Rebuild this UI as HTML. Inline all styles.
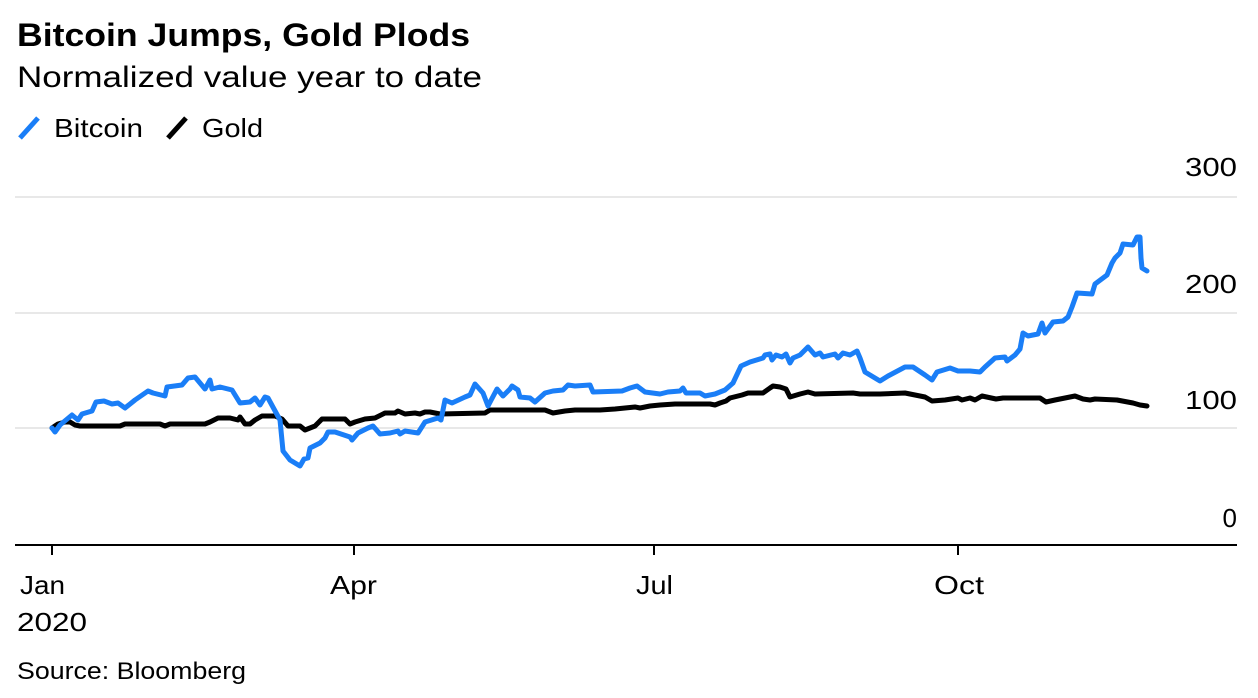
<!DOCTYPE html>
<html><head><meta charset="utf-8"><style>
body{margin:0;background:#fff;width:1258px;height:698px;overflow:hidden;font-family:"Liberation Sans",sans-serif;}
svg{position:absolute;left:0;top:0}
</style></head><body>
<svg width="1258" height="698" xmlns="http://www.w3.org/2000/svg" font-family="Liberation Sans, sans-serif">
<text x="17" y="46" font-size="32" font-weight="bold" fill="#000" textLength="453" lengthAdjust="spacingAndGlyphs">Bitcoin Jumps, Gold Plods</text>
<text x="17" y="87" font-size="30" fill="#000" textLength="465" lengthAdjust="spacingAndGlyphs">Normalized value year to date</text>
<line x1="20" y1="138" x2="38" y2="118" stroke="#1a7ef7" stroke-width="5"/>
<text x="54" y="137" font-size="26" fill="#000" textLength="89" lengthAdjust="spacingAndGlyphs">Bitcoin</text>
<line x1="168" y1="138" x2="186" y2="118" stroke="#000" stroke-width="5"/>
<text x="202" y="137" font-size="26" fill="#000" textLength="61" lengthAdjust="spacingAndGlyphs">Gold</text>
<g stroke="#e8e8e8" stroke-width="2">
<line x1="15" y1="197" x2="1237" y2="197"/>
<line x1="15" y1="313" x2="1237" y2="313"/>
<line x1="15" y1="428" x2="1237" y2="428"/>
</g>
<g font-size="26" fill="#000" text-anchor="end">
<text x="1237" y="176" textLength="52" lengthAdjust="spacingAndGlyphs">300</text>
<text x="1237" y="293" textLength="52" lengthAdjust="spacingAndGlyphs">200</text>
<text x="1237" y="409" textLength="52" lengthAdjust="spacingAndGlyphs">100</text>
<text x="1237" y="527">0</text>
</g>
<line x1="15" y1="545" x2="1237" y2="545" stroke="#000" stroke-width="2"/>
<g stroke="#000" stroke-width="2">
<line x1="52" y1="545" x2="52" y2="555"/><line x1="354" y1="545" x2="354" y2="555"/>
<line x1="654" y1="545" x2="654" y2="555"/><line x1="958" y1="545" x2="958" y2="555"/>
</g>
<g font-size="26" fill="#000">
<text x="20" y="594" textLength="45" lengthAdjust="spacingAndGlyphs">Jan</text><text x="330" y="594" textLength="47" lengthAdjust="spacingAndGlyphs">Apr</text><text x="636" y="594" textLength="37" lengthAdjust="spacingAndGlyphs">Jul</text><text x="934" y="594" textLength="50" lengthAdjust="spacingAndGlyphs">Oct</text>
<text x="17" y="631" textLength="70" lengthAdjust="spacingAndGlyphs">2020</text>
</g>
<text x="17" y="679" font-size="24" fill="#000" textLength="229" lengthAdjust="spacingAndGlyphs">Source: Bloomberg</text>
<polyline fill="none" stroke="#000" stroke-width="5" stroke-linejoin="round" stroke-linecap="round" points="52,428 58,424 65,422 70,422 75,425 80,426 90,426 120,426 125,424 160,424 165,426 170,424 205,424 210,422 218,418 230,418 238,420 240,417 245,424 250,424 255,420 262,416 275,416 282,419 288,426 300,426 305,430 315,426 322,419 345,419 350,424 355,422 365,419 375,418 385,413 395,413 398,411 405,414 415,413 420,414 425,412 430,412 440,414 485,413 490,410 545,410 553,413 565,411 575,410 600,410 615,409 635,407 640,408 650,406 660,405 675,404 710,404 715,405 720,403 726,401 730,398 742,395 748,393 763,393 770,388 773,386 780,387 786,389 790,397 800,394 808,392 815,394 853,393 860,394 880,394 905,393 915,395 925,397 932,401 945,400 958,398 962,400 970,398 975,400 982,396 996,399 1003,398 1040,398 1046,402 1055,400 1065,398 1075,396 1083,399 1090,400 1095,399 1117,400 1133,403 1140,405 1147,406"/>
<polyline fill="none" stroke="#1a7ef7" stroke-width="5" stroke-linejoin="round" stroke-linecap="round" points="52,428 55,432 60,425 72,415 78,420 82,414 92,411 96,402 104,401 112,404 118,403 125,408 135,400 148,391 153,393 165,396 167,387 182,385 188,378 195,377 205,389 210,380 212,389 220,387 232,390 240,403 250,402 255,398 260,405 265,397 268,398 280,420 283,451 290,460 300,466 304,459 308,458 310,448 320,443 325,438 328,432 335,432 350,437 352,440 358,433 368,428 373,426 380,434 390,433 398,431 400,434 405,431 418,433 425,422 438,418 441,420 445,400 452,403 465,397 470,395 475,384 483,393 488,406 497,389 503,396 510,389 512,386 518,390 520,397 530,398 535,402 545,393 553,391 563,390 568,385 575,386 590,385 593,392 622,391 630,388 637,386 645,392 660,394 668,392 680,391 683,388 686,393 700,393 705,396 715,394 725,390 733,383 741,366 750,362 763,358 765,355 770,354 772,360 776,355 782,357 786,354 790,363 793,358 800,355 808,347 815,355 820,353 823,357 835,354 838,358 843,353 850,355 857,351 860,358 865,372 870,375 880,381 888,376 905,367 913,367 925,375 932,380 937,372 950,368 958,371 970,371 980,372 985,367 995,358 1005,357 1007,361 1015,355 1020,349 1023,333 1028,336 1038,334 1042,323 1045,333 1053,322 1063,321 1068,317 1072,307 1077,293 1092,294 1095,284 1107,275 1112,263 1115,258 1120,253 1123,244 1133,245 1137,237 1140,237 1141,258 1142,268 1147,271"/>
</svg>
</body></html>
